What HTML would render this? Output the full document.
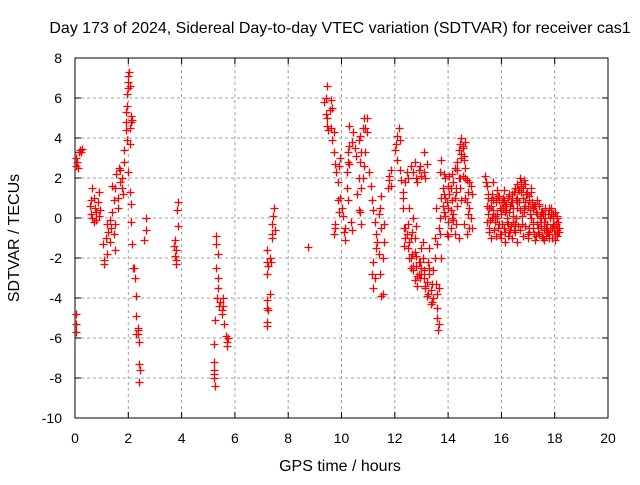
<!DOCTYPE html>
<html><head><meta charset="utf-8"><style>
body{margin:0;background:#fff}
svg text{font-family:"Liberation Sans",sans-serif;font-size:14px;fill:#000}
svg text.big{font-size:16px}
</style></head><body>
<svg id="chart" width="640" height="480" viewBox="0 0 640 480" xmlns="http://www.w3.org/2000/svg">
<rect width="640" height="480" fill="#fff"/>
<g id="grid"></g>
<g id="axes"></g>
<g id="points"></g>
<text class="big" x="340" y="33" text-anchor="middle">Day 173 of 2024, Sidereal Day-to-day VTEC variation (SDTVAR) for receiver cas1</text>
<text class="big" x="340" y="471" text-anchor="middle">GPS time / hours</text>
<text class="big" x="0" y="0" text-anchor="middle" transform="translate(19,238) rotate(-90)">SDTVAR / TECUs</text>
</svg>
<script>
const xTicks=[0,2,4,6,8,10,12,14,16,18,20];
const yTicks=[-10,-8,-6,-4,-2,0,2,4,6,8];
const times=[0.05,0.05,0.08,0.1,0.15,0.2,0.25,0.22,0.05,0.05,0.05,
0.55,0.6,0.65,0.7,0.75,0.8,0.85,0.9,0.95,0.65,0.7,0.8,0.9,0.6,
1.05,1.1,1.1,1.15,1.2,1.25,1.3,1.35,1.4,1.45,1.5,1.2,1.3,
1.45,1.5,1.55,1.6,1.65,1.7,1.75,1.8,1.6,1.5,1.4,1.7,1.75,
1.85,1.85,1.9,1.9,1.95,1.9,2.0,2.0,2.02,2.0,1.95,2.05,2.1,2.05,2.1,2.15,2.05,1.95,2.0,2.08,2.1,2.1,2.15,
2.18,2.22,2.25,2.28,2.3,2.35,2.38,2.4,2.42,2.45,2.42,2.3,2.35,
2.65,2.65,2.6,
3.75,3.8,3.75,3.8,3.82,3.85,3.85,3.72,3.8,
5.3,5.3,5.35,5.3,5.35,5.38,5.32,5.4,5.45,5.5,5.55,5.5,5.55,5.6,5.65,5.7,5.75,5.7,5.25,5.2,5.2,5.2,5.22,5.25,5.2,
7.2,7.25,7.3,7.2,7.22,7.2,7.25,7.2,7.2,7.3,7.35,7.4,7.4,7.42,7.45,7.4,7.5,7.22,
8.75,
9.35,9.4,9.45,9.4,9.45,9.5,9.45,9.55,9.6,9.65,9.6,9.65,9.7,9.7,9.75,9.8,9.85,9.85,9.9,9.75,9.7,9.95,9.9,9.95,9.75,
10.0,10.05,10.1,10.15,10.2,10.2,10.25,10.3,10.25,10.3,10.25,10.35,10.4,10.4,10.3,10.45,10.5,10.55,10.15,
10.6,10.65,10.7,10.72,10.65,10.7,10.65,10.7,10.75,10.8,10.85,10.9,10.95,10.9,10.85,10.95,10.8,10.75,
11.05,11.1,11.15,11.2,11.25,11.3,11.35,11.3,11.2,11.15,11.2,11.25,11.4,11.45,11.5,11.55,11.4,11.5,11.45,11.55,11.6,11.5,11.6,
11.75,11.8,11.85,11.8,11.85,
12.0,12.05,12.1,12.15,12.2,12.1,12.2,12.25,12.3,12.3,12.35,12.4,12.45,12.5,12.55,12.4,12.45,12.35,12.55,12.6,
12.5,12.6,12.7,12.8,12.9,13.0,12.75,12.85,12.95,13.1,13.15,13.2,13.1,
12.6,12.65,12.7,12.75,12.8,12.85,12.9,12.95,13.0,13.05,12.75,12.8,12.7,13.0,13.1,13.15,13.2,13.3,13.25,13.35,13.4,13.45,13.3,
13.45,13.5,13.55,13.6,13.6,13.62,13.65,13.6,13.65,13.7,13.75,13.8,13.7,13.75,13.85,13.9,13.85,13.5,13.55,13.95,13.65,
14.0,14.05,14.1,14.15,14.2,14.25,14.3,14.35,14.4,14.45,14.5,14.55,14.6,14.65,14.7,14.75,14.8,14.85,14.9,14.7,14.6,14.5,14.45,14.4,14.3,14.2,14.1,14.0,14.55,14.65,14.35,14.15,14.8,14.9,14.25,14.5,14.62,13.9,14.0,
15.4,15.45,15.5,15.5,15.55,15.6,15.65,15.7,15.75,15.8,15.8,15.85,15.9,15.95,16.0,16.0,16.05,16.1,16.1,16.15,16.2,16.25,16.25,16.3,16.35,16.4,16.4,16.45,16.5,16.5,16.55,16.6,16.6,16.65,16.7,16.7,16.75,16.8,16.8,16.85,16.9,16.9,16.95,17.0,17.0,17.05,17.1,17.15,17.2,17.2,17.25,17.3,17.35,17.4,17.45,17.5,17.55,17.6,17.65,17.7,17.75,17.8,17.85,17.9,17.95,18.0,18.05,18.1,18.15,15.6,15.7,16.3,15.9,16.6,17.05,17.3,17.8,18.0,16.15,15.45,16.85,17.1,17.4,17.6,18.1,
15.42,15.48,15.52,15.58,15.62,15.68,15.72,15.78,15.82,15.88,15.92,15.98,16.02,16.08,16.12,16.18,16.22,16.28,16.32,16.38,16.42,16.48,16.52,16.58,16.62,16.68,16.72,16.78,16.82,16.88,16.92,16.98,17.02,17.08,17.12,17.18,17.22,17.28,17.32,17.38,17.42,17.48,17.52,17.58,17.62,17.68,17.72,17.78,17.82,17.88,17.92,17.98,18.02,18.08,18.12,18.18,
15.47,15.53,15.63,15.73,15.83,15.93,16.03,16.13,16.23,16.33,16.43,16.53,16.63,16.73,16.83,16.93,17.03,17.13,17.23,17.33,17.43,17.53,17.63,17.73,17.83,17.93,18.03,18.13,
15.57,15.67,15.77,15.87,15.97,16.07,16.17,16.27,16.37,16.47,16.57,16.67,16.77,16.87,16.97,17.07,17.17,17.27,17.37,17.47,17.57,17.67,17.77,17.87,17.97,18.07,
12.3,12.4,12.5,12.6,12.7,12.8,12.9,13.0,13.1,13.2,13.3,13.4,12.55,12.65,12.75,12.85,12.95,13.05,13.15,13.25,13.35,
13.6,13.7,13.8,13.9,14.0,14.1,14.2,14.3,14.4,14.5,14.6,14.7,14.8,13.75,13.85,13.95,14.05,14.15,14.25,14.35,14.45,14.55,14.65,14.75,14.85];
const values=[2.6,3.0,2.8,2.5,3.3,3.4,3.45,3.3,-4.8,-5.3,-5.7,
0.6,0.2,0,1.0,0.5,-0.1,0.8,1.3,0.4,1.5,-0.2,0.3,0.1,0.9,
-1.3,-2.3,-2.1,-1.0,-0.3,-0.7,-0.1,-0.5,0.3,-0.8,-1.6,-1.8,-1.2,
0.9,1.5,2.2,1.0,2.5,1.8,2.0,1.2,0.5,-0.3,1.6,2.4,1.5,
2.8,3.4,4.4,5.3,5.6,4.8,6.5,7.1,7.3,6.8,6.2,6.6,5.1,4.5,4.8,4.9,3.7,3.9,2.3,1.3,0.7,-0.2,-1.3,
-2.5,-2.5,-3.0,-3.9,-4.9,-5.5,-5.8,-6.2,-7.3,-7.6,-8.2,-5.8,-5.6,
0.0,-0.6,-1.1,
-1.1,-1.6,-1.9,-2.3,0.4,0.8,-0.4,-1.4,-2.1,
-0.9,-1.3,-1.8,-2.5,-3.0,-3.5,-4.0,-4.4,-4.2,-4.6,-4.4,-4.8,-4.0,-5.3,-5.9,-6.2,-6.0,-6.4,-5.1,-6.3,-7.2,-7.6,-8.0,-8.4,-7.8,
-2.8,-2.4,-2.0,-1.6,-2.2,-4.5,-4.6,-5.2,-5.4,-3.8,-2.2,-1.0,-0.3,0.1,0.5,-0.8,-0.6,-4.1,
-1.45,
5.8,6.0,6.6,5.2,4.6,4.4,5.0,5.4,5.9,5.5,4.5,3.9,4.3,3.3,2.7,2.3,1.8,0.9,0.3,-0.5,-0.8,3.0,2.6,1.0,-0.3,
0.5,0.1,-0.7,-1.1,1.5,2.3,3.3,3.6,2.8,4.6,0.9,-0.2,-0.6,3.8,2.7,4.3,3.5,3.1,-0.5,
1.2,0.4,0.3,-0.3,2.0,2.8,3.9,4.1,3.3,4.5,5.0,4.5,4.3,3.3,2.6,5.0,2.0,1.5,
2.3,1.6,0.9,0.4,-0.2,-0.8,-1.2,-1.5,-2.2,-2.8,-3.5,-3.0,-1.8,-2.8,-3.9,-3.8,0.2,-0.5,0.5,-2.0,-1.2,1.1,-0.3,
1.5,2.1,2.4,1.9,1.6,
3.4,3.7,4.1,4.5,3.9,2.9,2.4,1.9,1.3,0.5,-0.5,-1.0,-0.8,-0.3,-1.2,1.8,2.3,-1.4,-2.0,-2.5,
2.0,2.6,2.3,2.0,2.4,2.1,2.8,1.8,2.6,2.3,2.0,2.7,3.3,
-1.0,-1.8,-2.6,-3.1,-2.4,-3.4,-2.8,-2.2,-1.5,-1.2,-1.0,-0.4,0.0,-2.8,-3.0,-3.4,-3.9,-2.8,-2.2,-3.6,-4.2,-4.0,-1.5,
-2.6,-2.0,-3.3,-4.5,-5.0,-5.6,-5.3,-1.3,-0.5,0.0,1.0,1.5,2.3,2.9,2.2,1.0,0.3,-1.0,0.5,-0.8,-3.5,
0.5,1.2,1.5,2.2,1.8,2.5,1.3,2.8,3.4,3.7,4.0,3.6,3.1,2.5,1.9,1.3,0.5,0.0,-0.5,-0.8,-0.3,0.9,1.5,-1.0,-0.3,0.2,-0.5,-0.9,2.1,1.0,0.6,0.9,1.8,1.2,-0.8,3.2,3.8,0.1,-0.2,
2.1,1.6,1.0,0.2,-0.5,0.6,1.2,0.4,-0.2,-0.9,0.8,1.4,-0.3,0.5,-1.0,0.2,1.0,1.4,-0.5,0.6,-0.2,-0.9,1.0,0.3,-0.4,1.2,-1.0,0.5,1.5,-0.3,0.0,1.7,-1.2,0.8,2.0,-0.6,1.6,1.0,-0.9,0.3,1.7,-0.4,1.3,0.6,-1.0,1.1,0.0,0.8,-0.5,0.5,-1.1,0.3,-0.3,-0.8,0.1,-0.4,-1.0,-0.2,0.4,-0.7,0.2,-1.0,0.5,-0.5,0.1,-0.8,-0.3,-0.9,-0.5,-1.0,1.8,1.1,0.9,0.5,-0.5,-0.9,0.4,0.3,-1.2,-0.2,1.9,1.3,0.6,-1.1,0.0,
1.8,1.2,0.5,-0.1,0.9,0.2,-0.6,1.0,0.0,-0.5,1.1,0.4,-0.3,0.9,-0.7,0.7,0.0,1.2,-0.6,0.8,0.1,1.3,-0.7,0.9,1.4,0.4,1.8,-0.3,1.5,0.6,1.2,-0.8,0.9,0.2,1.5,-0.3,0.6,-0.9,0.2,-0.5,0.7,-0.2,0.3,-0.6,0.0,-0.9,-0.3,0.5,-0.5,-1.0,0.2,-0.4,0.3,-0.6,-0.2,-0.7,
0.6,-0.7,0.0,-0.6,0.2,-0.8,0.8,0.3,-0.3,0.6,-0.2,0.9,-0.4,1.3,0.5,1.2,-0.7,0.7,-0.8,0.9,0.0,-0.9,0.5,-0.7,0.0,-0.3,-1.1,-0.7,
-0.1,0.9,0.1,1.1,-0.8,0.5,0.4,-0.7,0.8,-0.6,1.0,1.4,0.1,0.8,1.2,0.4,-0.2,0.6,-0.7,0.3,0.2,-0.5,-0.8,0.2,-0.6,0.1,
1.0,-0.5,-1.5,-2.0,-2.4,-1.9,-2.2,-2.5,-2.6,-3.2,-2.5,-3.3,0.5,-0.7,-1.7,-2.9,-3.0,-2.0,-3.5,-3.8,-4.3,
-3.8,-0.8,0.6,2.0,1.6,0.4,-0.1,1.5,2.0,3.0,2.9,0.8,-0.5,-2.0,1.2,0.8,2.1,0.0,1.0,2.4,2.0,3.5,2.0,0.2,1.6];

const NS="http://www.w3.org/2000/svg";
const X0=75,X1=608,Y0=58,Y1=418;
const xMin=0,xMax=20,yMin=-10,yMax=8;
function xs(t){return X0+(t-xMin)/(xMax-xMin)*(X1-X0);}
function ys(v){return Y1-(v-yMin)/(yMax-yMin)*(Y1-Y0);}
function mk(tag,attrs,parent){const e=document.createElementNS(NS,tag);for(const k in attrs)e.setAttribute(k,attrs[k]);parent.appendChild(e);return e;}
const grid=document.getElementById('grid'),axes=document.getElementById('axes'),pts=document.getElementById('points');
xTicks.forEach(t=>{
  const x=xs(t);
  if(t>xMin&&t<xMax){const g=mk('line',{x1:x,y1:Y0,x2:x,y2:Y1,stroke:'#a0a0a0','stroke-dasharray':'3,3','stroke-width':1},grid);
  
  }
  mk('line',{x1:x,y1:Y1,x2:x,y2:Y1-6,stroke:'#000'},axes);
  mk('line',{x1:x,y1:Y0,x2:x,y2:Y0+6,stroke:'#000'},axes);
  const tx=mk('text',{x:x,y:443,'text-anchor':'middle'},axes);tx.textContent=t;
  
  
});
yTicks.forEach(v=>{
  const y=ys(v);
  if(v>yMin&&v<yMax){const g=mk('line',{x1:X0,y1:y,x2:X1,y2:y,stroke:'#a0a0a0','stroke-dasharray':'3,3','stroke-width':1},grid);
  
  }
  mk('line',{x1:X0,y1:y,x2:X0+6,y2:y,stroke:'#000'},axes);
  mk('line',{x1:X1,y1:y,x2:X1-6,y2:y,stroke:'#000'},axes);
  const tx=mk('text',{x:62,y:y+5,'text-anchor':'end'},axes);tx.textContent=v;
  
  
});
const fr=mk('rect',{x:X0,y:Y0,width:X1-X0,height:Y1-Y0,fill:'none',stroke:'#000','stroke-width':1},axes);


let d='';
const n=Math.min(times.length,values.length);
for(let i=0;i<n;i++){
  const x=Math.round(xs(times[i]))+0.5,y=Math.round(ys(values[i]))+0.5;
  d+=`M${x-4},${y}h8M${x},${y-4}v8`;
}
const p=mk('path',{d:d,stroke:'#ff0000','stroke-width':1.3,fill:'none'},pts);


</script>
</body></html>
